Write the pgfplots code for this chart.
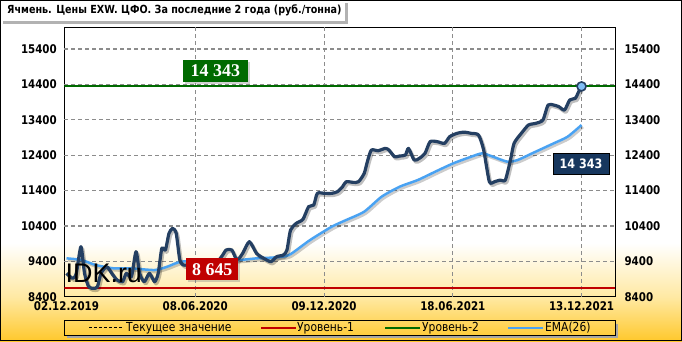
\documentclass[border=0pt]{standalone}
\usepackage{fontspec}
\setmainfont{DejaVu Sans}
\newfontfamily\cf[FakeStretch=0.86]{DejaVu Sans}
\newfontfamily\serifb{Liberation Serif}
\newfontfamily\wm{Liberation Sans}
\usepackage{pgfplots}
\pgfplotsset{compat=1.18}
\usetikzlibrary{shadows}
\definecolor{navy}{HTML}{243F62}
\definecolor{ema}{HTML}{49A2F2}
\definecolor{lvlgreen}{HTML}{006A00}
\definecolor{lvlred}{HTML}{C00000}
\definecolor{boxnavy}{HTML}{17375E}
\definecolor{gold}{HTML}{FFC82C}
\definecolor{palegold}{HTML}{FFE9A3}
\definecolor{gridgray}{HTML}{8C8C8C}
\tikzset{gridline/.style={draw=gridgray, dash pattern=on 4bp off 3bp, line width=1bp},
 hgridline/.style={draw=gridgray, dash pattern=on 4bp off 3bp, line width=1.2bp}}

\pgfplotstableread{
x y
0 9060
1.2 8919
1.9 9060
2.8 9813
3.5 9060
4.3 8683
5.3 8636
6.0 8683
6.7 9060
7.8 9248
8.8 9060
9.8 8872
10.9 8824
11.6 9060
12.6 8966
13.5 9672
14.2 9060
15.1 8824
16.1 9060
17.1 8824
17.8 9060
18.5 9766
19.2 9719
19.9 10190
20.6 10332
21.3 10190
22.0 9437
22.7 9295
23.4 9295
25 9250
27 9300
29 9350
30.2 9550
31.0 9720
32.1 9720
33.1 9437
34.2 9625
35.5 9955
36.9 9625
38.3 9484
39.7 9390
40.8 9531
42.1 9578
42.8 9719
43.5 10284
44.6 10473
45.9 10586
47.0 10944
48.0 10991
48.7 11321
50.1 11321
51.5 11321
52.6 11368
53.6 11509
54.3 11650
55.7 11631
56.7 11650
57.8 11886
58.5 12263
59.2 12545
60.5 12526
61.9 12592
62.6 12545
63.7 12357
64.7 12376
65.8 12404
66.4 12592
67.5 12263
68.5 12310
69.6 12451
70.6 12781
72.0 12781
73.4 12734
74.4 12922
75.8 13016
77.2 13050
78.6 13016
80.0 12969
81.0 12545
82.1 11650
83.1 11650
84.2 11697
85.2 11697
86.2 12263
86.9 12734
88.3 13016
89.7 13252
91.1 13299
92.5 13393
93.5 13817
94.6 13817
95.6 13770
96.7 13676
97.7 13958
98.8 14005
99.3 14150
100 14343
}\price

\pgfplotstableread{
x y
0 9484
2.9 9437
5.7 9295
9.2 9201
12.6 9201
17.1 9154
19.6 9250
22.3 9390
27.9 9420
33.5 9437
36.9 9484
40.4 9510
43.2 9578
47.3 10002
51.5 10378
54.3 10567
57.8 10803
61.2 11227
64.7 11509
68.2 11697
71.6 11933
75.1 12169
78.6 12357
80.7 12451
82.8 12357
85.6 12215
87.6 12263
90.4 12451
94.6 12734
97.3 12922
100 13252
}\ema

\begin{document}
\begin{tikzpicture}[x=1bp,y=1bp]
\useasboundingbox (0,0) rectangle (682,341);
\fill[white] (0,98) rectangle (682,341);
\shade[top color=white, bottom color=palegold] (0,44) rectangle (682,98);
\shade[top color=palegold, bottom color=gold] (0,0) rectangle (682,44);

% title box
\fill[black!30] (3,316.5) rectangle (348,320);
\fill[black!30] (345,316.5) rectangle (348,338);
\fill[white] (0,320) rectangle (345,341);
\node[anchor=west, inner sep=0pt] at (7,330.5) {\cf\bfseries\fontsize{11.2}{12}\selectfont Ячмень. Цены EXW. ЦФО. За последние 2 года (руб./тонна)};

\begin{axis}[at={(64.3bp,44.3bp)}, anchor=south west, scale only axis,
 width=550.7bp, height=269.7bp,
 xmin=-0.43, xmax=106.5, ymin=8400, ymax=16022,
 xtick={0,25,50,75,100},
 xticklabels={02.12.2019,08.06.2020,09.12.2020,18.06.2021,13.12.2021},
 ytick={8400,9400,...,15400},
 scaled y ticks=false,
 yticklabel={\pgfmathprintnumber[fixed,precision=0,1000 sep={}]{\tick}},
 /pgf/number format/assume math mode=true,
 tick label style={font=\cf\bfseries\fontsize{12}{12}\selectfont},
 tick style={draw=none},
 axis line style={black, line width=0.9bp},
 clip mode=individual,
 yticklabel style={xshift=-4bp},
 xticklabel style={yshift=-1bp},
]
\draw[hgridline] (axis cs:-0.43,9400) -- (axis cs:106.5,9400);
\draw[hgridline] (axis cs:-0.43,10400) -- (axis cs:106.5,10400);
\draw[hgridline] (axis cs:-0.43,11400) -- (axis cs:106.5,11400);
\draw[hgridline] (axis cs:-0.43,12400) -- (axis cs:106.5,12400);
\draw[hgridline] (axis cs:-0.43,13400) -- (axis cs:106.5,13400);
\draw[hgridline] (axis cs:-0.43,14400) -- (axis cs:106.5,14400);
\draw[hgridline] (axis cs:-0.43,15400) -- (axis cs:106.5,15400);
\pgfplotsinvokeforeach{25,50,75,100}{
  \draw[gridline] (axis cs:#1,8400) -- (axis cs:#1,16022);
}
\addplot[lvlgreen, line width=2bp] coordinates {(-0.43,14343) (106.5,14343)};
\addplot[lvlred, line width=2bp] coordinates {(-0.43,8645) (106.5,8645)};
\addplot[black, opacity=0.2, line width=2.6bp, xshift=1.5bp, yshift=-2bp, smooth, tension=0.4] table {\ema};
\addplot[ema, line width=2.5bp, smooth, tension=0.4, line join=round] table {\ema};
\addplot[black, opacity=0.25, line width=3.4bp, xshift=1.5bp, yshift=-2bp, smooth, tension=0.4, line join=round] table {\price};
\addplot[navy, line width=3.2bp, smooth, tension=0.4, line join=round] table {\price};
\addplot[only marks, mark=*, mark size=4.5bp, mark options={draw=navy, fill=ema!70, line width=1.6bp}] coordinates {(100,14343)};

\node[fill=lvlgreen, text=white, font=\serifb\bfseries\fontsize{18}{18}\selectfont, minimum width=65bp, minimum height=22bp, inner sep=0pt, drop shadow={opacity=0.35, shadow xshift=2bp, shadow yshift=-2bp}] at (axis cs:28.9,14778) {14 343};
\node[fill=lvlred, text=white, font=\serifb\bfseries\fontsize{18}{18}\selectfont, minimum width=52bp, minimum height=22bp, inner sep=0pt, drop shadow={opacity=0.35, shadow xshift=2bp, shadow yshift=-2bp}] at (axis cs:28.3,9169) {8 645};
\node[fill=boxnavy, draw=black, line width=0.8bp, text=white, font=\cf\bfseries\fontsize{13}{13}\selectfont, minimum width=56bp, minimum height=21bp, inner sep=0pt] at (axis cs:99.9,12164) {14 343};
\node[anchor=west, inner sep=0pt, font=\wm\fontsize{27}{27}\selectfont] at (axis cs:-0.2,9060) {IDK.ru};
\end{axis}

\begin{axis}[at={(64.3bp,44.3bp)}, anchor=south west, scale only axis,
 width=550.7bp, height=269.7bp,
 xmin=-0.43, xmax=106.5, ymin=8400, ymax=16022,
 axis y line*=right, axis x line=none,
 ytick={8400,9400,...,15400},
 scaled y ticks=false,
 yticklabel={\pgfmathprintnumber[fixed,precision=0,1000 sep={}]{\tick}},
 /pgf/number format/assume math mode=true,
 tick label style={font=\cf\bfseries\fontsize{12}{12}\selectfont},
 tick style={draw=none},
 axis line style={black, line width=0.9bp},
 yticklabel style={xshift=6bp},
]
\addplot[draw=none] coordinates {(0,9000)};
\end{axis}

% legend
\fill[black!35] (67,3) rectangle (618,6);
\fill[black!35] (615,3) rectangle (618,17.5);
\draw[black, line width=0.8bp] (64,6) rectangle (615,20.5);
\draw[black, line width=0.8bp, dash pattern=on 3bp off 2bp] (89,13.2) -- (122,13.2);
\node[anchor=west, inner sep=0pt, font=\cf\fontsize{12.5}{12}\selectfont] at (126,13.2) {Текущее значение};
\draw[lvlred, line width=2bp] (261,13.2) -- (296,13.2);
\node[anchor=west, inner sep=0pt, font=\cf\fontsize{12.5}{12}\selectfont] at (297,13.2) {Уровень-1};
\draw[lvlgreen, line width=2bp] (385,13.2) -- (420,13.2);
\node[anchor=west, inner sep=0pt, font=\cf\fontsize{12.5}{12}\selectfont] at (422,13.2) {Уровень-2};
\draw[ema, line width=2.4bp] (508,13.2) -- (543,13.2);
\node[anchor=west, inner sep=0pt, font=\cf\fontsize{12.5}{12}\selectfont] at (545,13.2) {EMA(26)};

\draw[black, line width=1.2bp] (0.6,0.6) rectangle (681.4,340.4);
\end{tikzpicture}
\end{document}
